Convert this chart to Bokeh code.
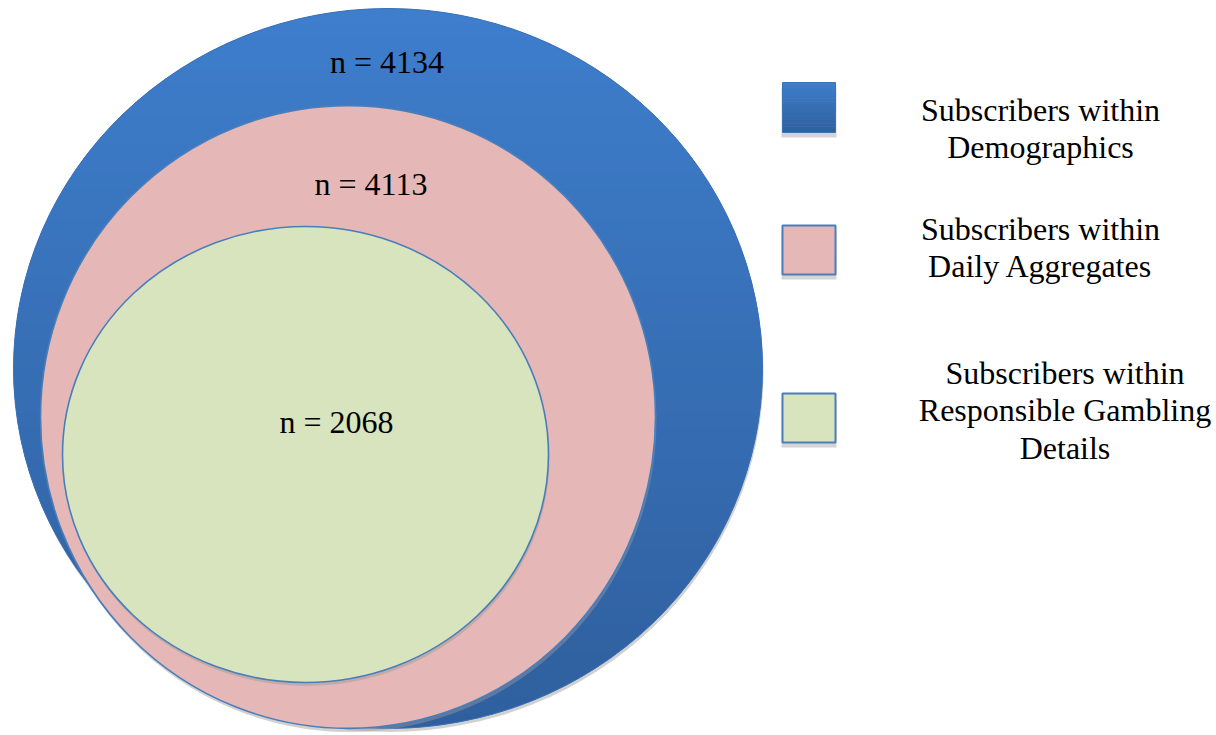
import numpy as np
from bokeh.plotting import figure
from bokeh.models import Range1d
from bokeh.embed import file_html
from bokeh.resources import INLINE
from bokeh.core.properties import value

# ---- data ----
set_names = ["Subscribers within\nDemographics",
             "Subscribers within\nDaily Aggregates",
             "Subscribers within\nResponsible Gambling\nDetails"]
set_counts = [4134, 4113, 2068]

# ---- layout / style (screen pixel coordinates) ----
ell_cx = [387.5, 347.5, 305.0]
ell_cy = [368.0, 416.5, 454.0]
ell_w = [749.0, 615.0, 486.0]
ell_h = [720.0, 623.0, 456.0]
fills = ["#3A76C2", "#E5B8B7", "#D7E4BD"]
grad_top, grad_bot = "#3E7ECC", "#2F5F9E"
outline = "#4A7EBB"
lab_x = [386.5, 370.5, 336.0]
lab_base = [61, 183, 421]
leg_sq_x0, leg_sq_x1 = 782, 835
leg_sq_y0 = [82, 225, 393]
leg_sq_y1 = [132, 274, 442]
leg_text_x = [1040, 1040, 1064.5]
leg_text_base = [109, 228, 372]
line_h = 37.5
FONT = value("Liberation Serif")
FS = "32px"

W, H = 1212, 732
p = figure(width=W, height=H, x_range=Range1d(0, W), y_range=Range1d(H, 0),
           output_backend="svg", toolbar_location=None, min_border=0)
p.axis.visible = False
p.grid.visible = False
p.outline_line_color = None
p.background_fill_color = "white"


def hexrgb(h):
    h = h.lstrip("#")
    return np.array([int(h[i:i + 2], 16) for i in (0, 2, 4)], dtype=float)


def mix(c0, c1, t):
    c = hexrgb(c0) * (1 - t) + hexrgb(c1) * t
    return "#%02x%02x%02x" % tuple(int(round(v)) for v in c)


def band(cx, cy, w, h, y0, y1, n=24):
    a, b = w / 2, h / 2
    ys = np.linspace(y0, y1, n)
    dx = a * np.sqrt(np.clip(1 - ((ys - cy) / b) ** 2, 0, None))
    xs = np.concatenate([cx - dx, (cx + dx)[::-1]])
    yy = np.concatenate([ys, ys[::-1]])
    return list(xs), list(yy)


for i in range(3):
    # shadow
    p.ellipse(x=[ell_cx[i] + 1], y=[ell_cy[i] + 3.5], width=[ell_w[i]], height=[ell_h[i]],
              fill_color="#9a9a9a", fill_alpha=0.45, line_color=None)
    p.ellipse(x=[ell_cx[i]], y=[ell_cy[i]], width=[ell_w[i]], height=[ell_h[i]],
              fill_color=fills[i], line_color=None)
    if i == 0:
        nb = 48
        top = ell_cy[0] - ell_h[0] / 2
        bot = ell_cy[0] + ell_h[0] / 2
        edges = np.linspace(top, bot, nb + 1)
        xs_l, ys_l, cols = [], [], []
        for k in range(nb):
            xs, ys = band(ell_cx[0], ell_cy[0], ell_w[0], ell_h[0], edges[k], min(edges[k + 1] + 1.0, bot))
            xs_l.append(xs)
            ys_l.append(ys)
            cols.append(mix(grad_top, grad_bot, (k + 0.5) / nb))
        p.patches(xs=xs_l, ys=ys_l, fill_color=cols, line_color=None)
        p.ellipse(x=[ell_cx[i]], y=[ell_cy[i]], width=[ell_w[i]], height=[ell_h[i]],
                  fill_color=None, line_color="#3C72B6", line_width=1)
    else:
        p.ellipse(x=[ell_cx[i]], y=[ell_cy[i]], width=[ell_w[i]], height=[ell_h[i]],
                  fill_color=None, line_color=outline, line_width=1.6)

# count labels
p.text(x=lab_x, y=lab_base, text=["n = %d" % c for c in set_counts],
       text_font=FONT, text_font_size=FS, text_color="black",
       text_align="center", text_baseline="alphabetic")

# legend
for i in range(3):
    y0, y1 = leg_sq_y0[i], leg_sq_y1[i]
    p.quad(left=[leg_sq_x0 - 1], right=[leg_sq_x1 + 1], top=[y0 + 5], bottom=[y1 + 5],
           fill_color="#d4d4d4", line_color=None)
    if i == 0:
        nb = 16
        edges = np.linspace(y0, y1, nb + 1)
        p.quad(left=[leg_sq_x0] * nb, right=[leg_sq_x1] * nb,
               top=list(edges[:-1]), bottom=list(np.minimum(edges[1:] + 0.6, y1)),
               fill_color=[mix(grad_top, grad_bot, (k + 0.5) / nb) for k in range(nb)],
               line_color=None)
        p.quad(left=[leg_sq_x0], right=[leg_sq_x1], top=[y0], bottom=[y1],
               fill_color=None, line_color="#3C72B6", line_width=1)
    else:
        p.quad(left=[leg_sq_x0], right=[leg_sq_x1], top=[y0], bottom=[y1],
               fill_color=fills[i], line_color=outline, line_width=2)
    lines = set_names[i].split("\n")
    p.text(x=[leg_text_x[i]] * len(lines),
           y=[leg_text_base[i] + j * line_h for j in range(len(lines))],
           text=lines, text_font=FONT, text_font_size=FS, text_color="black",
           text_align="center", text_baseline="alphabetic")

open("out.html", "w").write(file_html(p, INLINE))
